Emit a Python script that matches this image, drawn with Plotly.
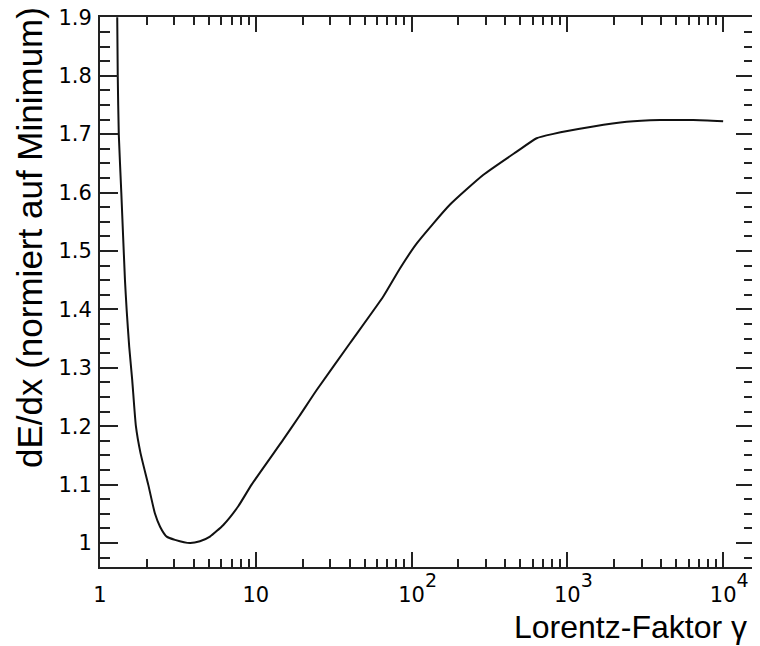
import plotly.graph_objects as go

# Data
gamma = [1.29, 1.30, 1.32, 1.37, 1.446, 1.483, 1.54, 1.61, 1.70, 1.82, 2.04, 2.25, 2.43,
         2.68, 3.03, 3.78, 4.38, 5.08, 6.19, 7.72, 9.4, 15.0, 19.0, 24.6, 40.2, 65.8,
         84.2, 108, 176, 288, 473, 635, 800, 1467, 2403, 3930, 6430, 10000]
dedx = [1.90, 1.80, 1.70, 1.60, 1.4505, 1.399, 1.336, 1.279, 1.20, 1.154, 1.10, 1.051, 1.028,
        1.011, 1.0055, 1.0, 1.003, 1.011, 1.031, 1.063, 1.10, 1.177, 1.217, 1.262, 1.342, 1.422,
        1.47, 1.513, 1.579, 1.630, 1.670, 1.693, 1.70, 1.713, 1.721, 1.724, 1.724, 1.722]

x_tickvals = [1, 10, 100, 1000, 10000]
x_exponents = ["", "", "2", "3", "4"]
y_tickvals = [1.0, 1.1, 1.2, 1.3, 1.4, 1.5, 1.6, 1.7, 1.8, 1.9]
y_ticktext = ["1", "1.1", "1.2", "1.3", "1.4", "1.5", "1.6", "1.7", "1.8", "1.9"]

SUP = '<span style="font-size:19px;baseline-shift:15px%s">%s</span>'
x_ticktext = []
for v, e in zip(x_tickvals, x_exponents):
    if e:
        x_ticktext.append((SUP % (";fill:rgba(0,0,0,0)", e)) + "10" + (SUP % ("", e)))
    else:
        x_ticktext.append(str(v))

x_minor = [m * 10 ** d for d in range(0, 4) for m in range(2, 10)]

FONT = "Liberation Sans, Arial, Helvetica, sans-serif"
TICKFONT = "DejaVu Sans, Liberation Sans, sans-serif"
AX = "#222222"

fig = go.Figure()
fig.add_trace(go.Scatter(x=gamma, y=dedx, mode="lines",
                         line=dict(color="#111111", width=2, shape="spline", smoothing=0.5),
                         showlegend=False))

fig.update_layout(
    width=752, height=638,
    margin=dict(l=92, r=6, t=9, b=79, autoexpand=False),
    paper_bgcolor="white", plot_bgcolor="white",
    font=dict(family=FONT, color="black", size=21),
    xaxis=dict(
        type="log", range=[0, 4.198], automargin=False,
        showgrid=False, zeroline=False,
        showline=True, linecolor=AX, linewidth=2, mirror="ticks",
        ticks="inside", ticklen=15, tickwidth=1.5, tickcolor=AX,
        tickmode="array", tickvals=x_tickvals, ticktext=x_ticktext,
        tickfont=dict(family=TICKFONT, size=21, color="black"),
        ticklabelstandoff=8, ticklabeloverflow="allow",
        minor=dict(tickmode="array", tickvals=x_minor, ticklen=8,
                   tickwidth=1.5, tickcolor=AX, ticks="inside", showgrid=False),
    ),
    yaxis=dict(
        range=[0.959, 1.9005], automargin=False,
        showgrid=False, zeroline=False,
        showline=True, linecolor=AX, linewidth=2, mirror="ticks",
        ticks="inside", ticklen=18, tickwidth=1.5, tickcolor=AX,
        tickmode="array", tickvals=y_tickvals, ticktext=y_ticktext,
        tickfont=dict(family=TICKFONT, size=21, color="black"),
        ticklabelstandoff=2, ticklabeloverflow="allow",
        minor=dict(dtick=0.025, tick0=0.9, ticklen=10,
                   tickwidth=1.5, tickcolor=AX, ticks="inside", showgrid=False),
    ),
    annotations=[
        dict(text="dE/dx (normiert auf Minimum)", textangle=-90,
             xref="paper", yref="paper", x=-0.107, y=0.5982,
             xanchor="center", yanchor="middle", showarrow=False,
             font=dict(family=FONT, size=35, color="black")),
        dict(text="Lorentz-Faktor γ",
             xref="paper", yref="paper", x=0.9924, y=-0.1091,
             xanchor="right", yanchor="middle", showarrow=False,
             font=dict(family=FONT, size=32, color="black")),
    ],
)

fig.write_html("out.html")
